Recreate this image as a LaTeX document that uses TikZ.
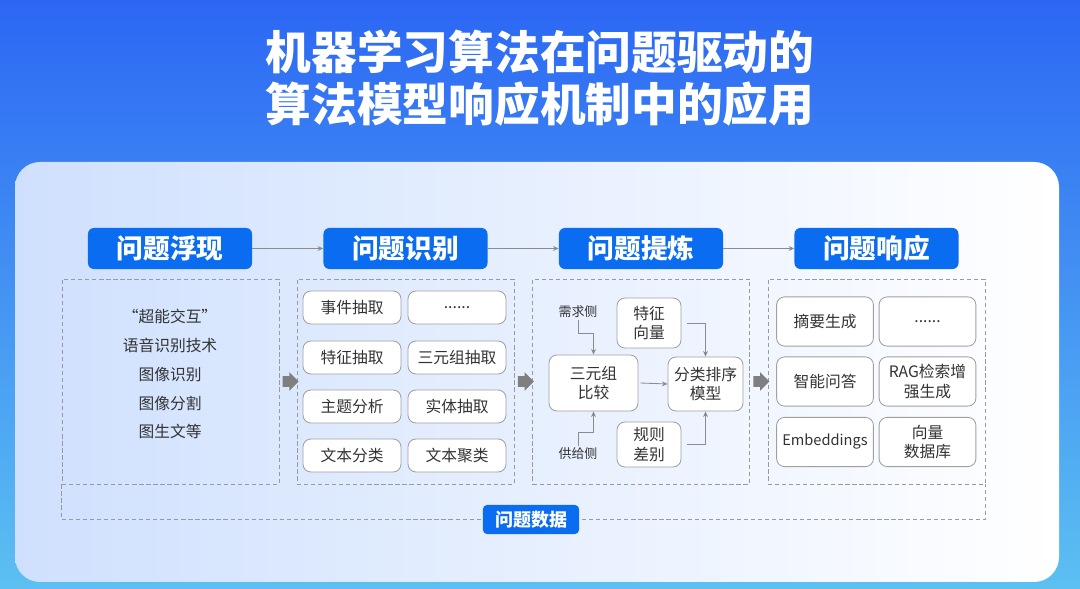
\documentclass[tikz,border=0pt]{standalone}
\usepackage{fontspec}
\setmainfont{Noto Sans CJK SC}
\usepackage{tikz}
\usetikzlibrary{arrows.meta, positioning, calc, shapes.arrows}
\definecolor{bgtop}{HTML}{2C67F4}
\definecolor{bgmid}{HTML}{2F72F4}
\definecolor{bgbot}{HTML}{5CC0F2}
\definecolor{panleft}{HTML}{CFE0FE}
\definecolor{hdrblue}{HTML}{0A6CF0}
\definecolor{dashgray}{HTML}{9A9A9A}
\definecolor{boxgray}{HTML}{A0A0A0}
\definecolor{linegray}{HTML}{8C8C8C}
\definecolor{flowgray}{HTML}{7F7F7F}
\definecolor{txtgray}{HTML}{333333}

\begin{document}
\begin{tikzpicture}[x=0.025cm, y=-0.025cm,
    title/.style={text=white, font=\fontsize{32.5}{37}\selectfont\bfseries, align=center},
    hdr/.style={fill=hdrblue, rounded corners=0.15cm, text=white, font=\fontsize{19}{22}\selectfont\bfseries, minimum width=4.1cm, minimum height=1.025cm, inner sep=0pt},
    tag/.style={fill=hdrblue, rounded corners=0.1cm, text=white, font=\fontsize{12.8}{15}\selectfont\bfseries, minimum width=2.4cm, minimum height=0.725cm, inner sep=0pt},
    colbox/.style={draw=dashgray, densely dashed, line width=0.5pt, minimum width=5.425cm, minimum height=5.125cm, inner sep=0pt},
    item/.style={draw=boxgray, fill=white, rounded corners=0.2cm, line width=0.6pt, text=txtgray, font=\fontsize{11.2}{13.8}\selectfont, align=center, inner sep=0pt},
    task/.style={item, minimum width=2.45cm, minimum height=0.825cm},
    resp/.style={item, minimum width=2.42cm, minimum height=1.23cm},
    note/.style={text=txtgray, font=\fontsize{9.2}{11}\selectfont, inner sep=1pt},
    link/.style={draw=linegray, line width=0.6pt, -{Stealth[length=4pt, width=3.5pt]}},
    flow/.style={single arrow, fill=flowgray, draw=none, minimum height=0.35cm, inner sep=0.125cm, single arrow head extend=0.1cm, single arrow head indent=0pt},
]
    \useasboundingbox (0,0) rectangle (1080,589);
    \shade[top color=bgtop, middle color=bgmid, bottom color=bgbot] (0,0) rectangle (1080,589);
    \shade[left color=panleft, right color=white, rounded corners=0.625cm] (15,162) rectangle (1059,582);

    \node[title] (ttl) at (540,78) {机器学习算法在问题驱动的\\算法模型响应机制中的应用};

    \node[hdr] (h1) at (170,248.5) {问题浮现};
    \node[hdr] (h2) at (405.5,248.5) {问题识别};
    \node[hdr] (h3) at (641,248.5) {问题提炼};
    \node[hdr] (h4) at (876.5,248.5) {问题响应};
    \draw[link] (h1) -- (h2);
    \draw[link] (h2) -- (h3);
    \draw[link] (h3) -- (h4);

    \node[colbox] (c1) at (170.5,381.5) {};
    \node[colbox] (c2) at (405.5,381.5) {};
    \node[colbox] (c3) at (641,381.5) {};
    \node[colbox] (c4) at (876.5,381.5) {};
    \draw[colbox] (c1.south west) -- ++(0,35) -| (c4.south east);
    \node[tag] (data) at (531,519.5) {问题数据};

    \node[flow] (f1) at ($(c1.east)!0.5!(c2.west)$) {};
    \node[flow] (f2) at ($(c2.east)!0.5!(c3.west)$) {};
    \node[flow] (f3) at ($(c3.east)!0.5!(c4.west)$) {};

    \node[text=txtgray, font=\fontsize{11.2}{20.6}\selectfont, align=center] (src) at (170,374)
        {“超能交互”\\语音识别技术\\图像识别\\图像分割\\图生文等};

    \node[task] (e1) at (352,307.5) {事件抽取};
    \node[task] (e2) at (457,307.5) {......};
    \node[task] (e3) at (352,357.5) {特征抽取};
    \node[task] (e4) at (457,357.5) {三元组抽取};
    \node[task] (e5) at (352,406.5) {主题分析};
    \node[task] (e6) at (457,406.5) {实体抽取};
    \node[task] (e7) at (352,455.5) {文本分类};
    \node[task] (e8) at (457,455.5) {文本聚类};

    \node[note] (need) at (578,312) {需求侧};
    \node[note] (supply) at (578,454) {供给侧};
    \node[item, minimum width=1.6cm, minimum height=1.25cm] (feat) at (649,323) {特征\\向量};
    \node[item, minimum width=2.225cm, minimum height=1.4cm] (cmp) at (593.5,383) {三元组\\比较};
    \node[item, minimum width=1.875cm, minimum height=1.35cm] (rank) at (705.5,384) {分类排序\\模型};
    \node[item, minimum width=1.6cm, minimum height=1.125cm] (rule) at (649,444.5) {规则\\差别};
    \draw[link] (need.south) -- ++(0,14) -| (cmp.north);
    \draw[link] (supply.north) -- ++(0,-14) -| (cmp.south);
    \draw[link] ([xshift=0.15cm]feat.east) -| (rank.north);
    \draw[link] ([xshift=0.15cm]rule.east) -| (rank.south);
    \draw[link] ([xshift=0.05cm]cmp.east) -- (rank.west);

    \node[resp] (r1) at (825,321.5) {摘要生成};
    \node[resp] (r2) at (927.5,321.5) {......};
    \node[resp] (r3) at (825,381.5) {智能问答};
    \node[resp] (r4) at (927.5,381.5) {RAG检索增\\强生成};
    \node[resp, font=\fontsize{10.4}{13}\selectfont] (r5) at (825,442) {Embeddings};
    \node[resp] (r6) at (927.5,442) {向量\\数据库};
\end{tikzpicture}
\end{document}
